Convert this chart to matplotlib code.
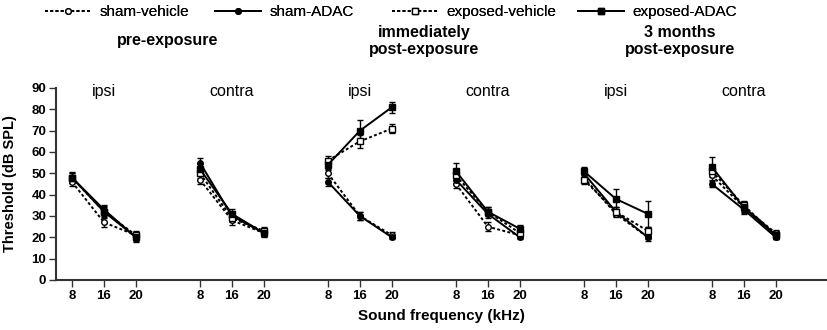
import matplotlib
matplotlib.use("Agg")
import matplotlib.pyplot as plt
from matplotlib.lines import Line2D

plt.rcParams['font.family'] = ['Liberation Sans', 'DejaVu Sans']

freq_labels = ["8", "16", "20"]
panel_labels = ["ipsi", "contra", "ipsi", "contra", "ipsi", "contra"]
condition_titles = ["pre-exposure", "immediately\npost-exposure", "3 months\npost-exposure"]
series_names = ["sham-vehicle", "sham-ADAC", "exposed-vehicle", "exposed-ADAC"]

sham_vehicle = [[46, 27, 21], [47, 28, 22], [50, 30, 21], [45, 25, 21], [48, 31, 20], [49, 34, 22]]
sham_vehicle_err = [[2, 2, 1.5], [2, 2, 1.5], [2, 2, 1.5], [2, 2, 1.5], [2, 1.5, 1.5], [2, 2, 1.5]]
sham_adac = [[48, 33, 20], [55, 30, 22], [46, 30, 20], [47, 31, 20], [50, 32, 20], [45, 33, 20]]
sham_adac_err = [[2, 2, 1.5], [2, 2, 1.5], [2, 2, 1], [2, 2, 1], [2, 2, 1], [1.5, 2, 1]]
exposed_vehicle = [[48, 32, 21], [50, 29, 23], [56, 65, 71], [49, 32, 22], [47, 32, 23], [51, 35, 21]]
exposed_vehicle_err = [[2, 2, 2], [2, 2, 2], [2, 3, 2], [2, 2, 2], [2, 2, 2], [2, 2, 2]]
exposed_adac = [[48, 32, 20], [52, 31, 22], [54, 70, 81], [51, 32, 24], [51, 38, 31], [53, 34, 21]]
exposed_adac_err = [[2.5, 2.5, 2], [2.5, 2.5, 2], [2.5, 5, 2.5], [4, 2, 2], [2, 4.5, 6], [4.5, 2.5, 2]]

series = [
    (sham_vehicle, sham_vehicle_err, dict(ls=(0, (1.5, 1.2)), marker='o', mfc='white', ms=4)),
    (sham_adac, sham_adac_err, dict(ls='-', marker='o', mfc='black', ms=4)),
    (exposed_vehicle, exposed_vehicle_err, dict(ls=(0, (1.5, 1.2)), marker='s', mfc='white', ms=4.5)),
    (exposed_adac, exposed_adac_err, dict(ls='-', marker='s', mfc='black', ms=4.5)),
]

W, H = 827, 330
fig = plt.figure(figsize=(W / 100, H / 100), dpi=100)
ax = fig.add_axes([56 / W, 1 - 280 / H, 1 - 56 / W, (280 - 88) / H])

xticks = []
xticklabels = []
for g in range(len(panel_labels)):
    xs = [4 * g + i for i in range(len(freq_labels))]
    xticks += xs
    xticklabels += freq_labels
    for vals, errs, st in series:
        ax.errorbar(xs, vals[g], yerr=errs[g], color='black', mec='black', lw=1.4,
                    elinewidth=1.0, capsize=2.5, capthick=1.0, mew=1.0,
                    ls=st['ls'], marker=st['marker'], mfc=st['mfc'], ms=st['ms'])
    ax.text(4 * g + 1, 88.5, panel_labels[g], ha='center', va='center', fontsize=11.5, clip_on=False)

for c, title in enumerate(condition_titles):
    xc = 8 * c + 3
    xpix = (56 + (xc + 0.5) / 24.1 * (W - 56))
    fig.text(xpix / W, 1 - 41 / H, title, ha='center', va='center',
             fontsize=11.5, fontweight='bold', linespacing=1.15)

ax.set_xlim(-0.5, 23.6)
ax.set_ylim(0, 90)
ax.set_yticks(range(0, 91, 10))
ax.set_xticks(xticks)
ax.set_xticklabels(xticklabels)
for lab in ax.get_xticklabels() + ax.get_yticklabels():
    lab.set_fontweight('bold')
    lab.set_fontsize(9.5)
ax.tick_params(direction='out', length=5, width=1.0, color='#333333', pad=2)
for s in ['top', 'right']:
    ax.spines[s].set_visible(False)
for s in ['left', 'bottom']:
    ax.spines[s].set_linewidth(1.5)
    ax.spines[s].set_color('#333333')

ax.set_xlabel("Sound frequency (kHz)", fontsize=11, fontweight='bold', labelpad=5)
ax.set_ylabel("Threshold (dB SPL)", fontsize=10.5, fontweight='bold')
ax.yaxis.set_label_coords((17 - 56) / (W - 56), 0.5)

legend_left_px = [45, 215, 392, 578]
for (vals, errs, st), name, lx in zip(series, series_names, legend_left_px):
    h = Line2D([], [], color='black', lw=1.4, ls=st['ls'], marker=st['marker'],
               mfc=st['mfc'], mec='black', ms=st['ms'], label=name)
    leg = fig.legend(handles=[h], loc='center left', bbox_to_anchor=(lx / W, 1 - 12 / H),
                     frameon=False, fontsize=11, handlelength=3.0, handletextpad=0.55,
                     borderpad=0, borderaxespad=0)
    fig.add_artist(leg)

fig.savefig("out.png", dpi=100)
